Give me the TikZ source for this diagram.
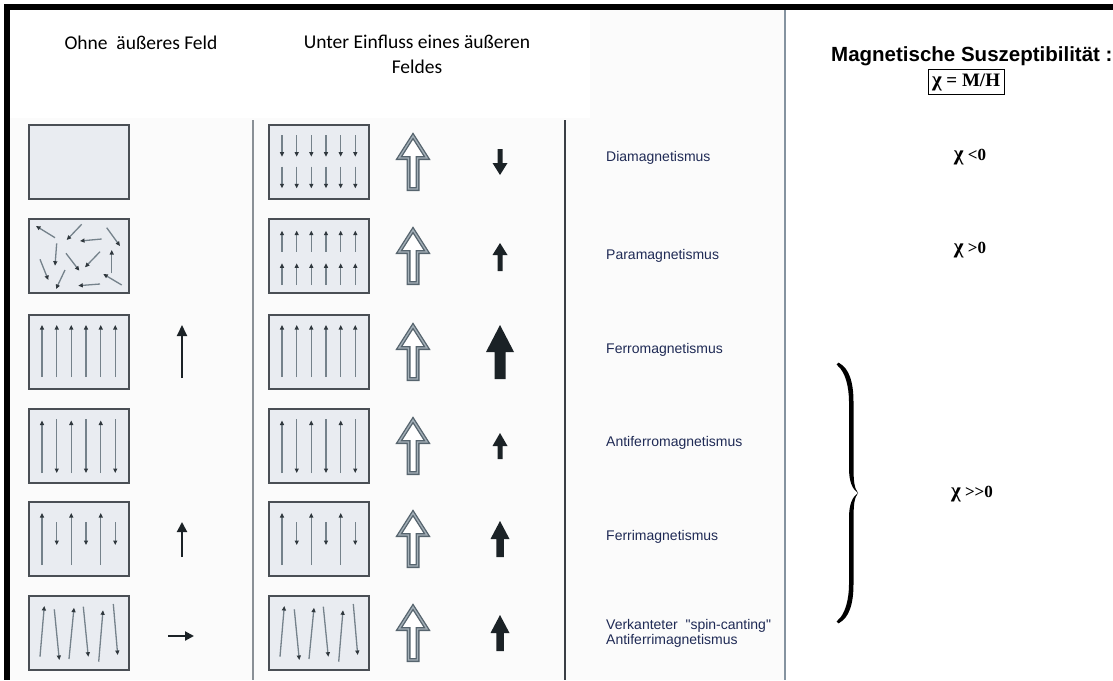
\documentclass[tikz,border=0pt]{standalone}
\usepackage{fontspec}
\setmainfont{Liberation Serif}
\newfontfamily\hdrfont{Carlito}
\newfontfamily\lblfont{Liberation Sans}
\usetikzlibrary{arrows.meta}
\definecolor{offwhite}{HTML}{FBFBFB}
\definecolor{boxfill}{HTML}{E9ECF1}
\definecolor{boxline}{HTML}{4A4F55}
\definecolor{spinline}{HTML}{75828B}
\definecolor{spinhead}{HTML}{2F373D}
\definecolor{hollowdark}{HTML}{56646E}
\definecolor{hollowlight}{HTML}{A3AFB7}
\definecolor{lblblue}{HTML}{1F2A55}
\definecolor{sepgray}{HTML}{8A9096}
\definecolor{sepdark}{HTML}{3A3F45}
\definecolor{sepblue}{HTML}{8593A0}
\definecolor{solidcol}{HTML}{1B2226}
\newcommand\bigchi{{\fontsize{21}{20}\selectfont χ}}
\tikzset{
  mbox/.style={draw=boxline, line width=1.5pt, fill=boxfill, minimum width=100pt, minimum height=74pt, inner sep=0pt},
  spin/.style={line width=1.3pt, draw=spinline, -{Triangle[length=4.5pt,width=4pt,color=spinhead]}},
  lbl/.style={anchor=west, font=\lblfont\fontsize{14}{16}\selectfont, text=lblblue, inner sep=0pt},
  hdr/.style={font=\hdrfont\fontsize{19.5}{25}\selectfont, align=center, inner sep=0pt},
  chi/.style={font=\bfseries\fontsize{17}{20}\selectfont, inner sep=0pt},
  thinarrow/.style={line width=2pt, draw=solidcol, -{Triangle[length=11pt,width=10pt,color=solidcol]}},
}
\newcommand\solidup[6]{%
  \fill[solidcol] (#1,#2) -- ({#1+#4/2},{#2+#5}) -- ({#1+#6/2},{#2+#5}) -- ({#1+#6/2},{#2+#3}) -- ({#1-#6/2},{#2+#3}) -- ({#1-#6/2},{#2+#5}) -- ({#1-#4/2},{#2+#5}) -- cycle;}
\newcommand\hollowup[2]{%
  \filldraw[draw=hollowdark, fill=white, line width=4pt] (#1,#2) -- ({#1+14},{#2+22}) -- ({#1+4.5},{#2+22}) -- ({#1+4.5},{#2+53}) -- ({#1-4.5},{#2+53}) -- ({#1-4.5},{#2+22}) -- ({#1-14},{#2+22}) -- cycle;
  \draw[draw=hollowlight, line width=1.3pt] (#1,#2) -- ({#1+14},{#2+22}) -- ({#1+4.5},{#2+22}) -- ({#1+4.5},{#2+53}) -- ({#1-4.5},{#2+53}) -- ({#1-4.5},{#2+22}) -- ({#1-14},{#2+22}) -- cycle;}
% spin patterns in box-local coordinates (origin = top-left corner of box)
\newcommand\spinsFerro{\foreach \dx in {13,27.7,42.3,57,71.7,86.3} {\draw[spin] (\dx,62) -- (\dx,10);}}
\newcommand\spinsAntiferro{%
  \foreach \dx in {13,42.3,71.7} {\draw[spin] (\dx,64) -- (\dx,11.5);}
  \foreach \dx in {27.7,57,86.3} {\draw[spin] (\dx,10) -- (\dx,64);}}
\newcommand\spinsFerri{%
  \foreach \dx in {13,42.3,71.7} {\draw[spin] (\dx,63) -- (\dx,11);}
  \foreach \dx in {27.7,57,86.3} {\draw[spin] (\dx,20) -- (\dx,43);}}
\newcommand\spinsCanted{%
  \draw[spin] (11,60.7) -- (15.3,10);
  \draw[spin] (25.3,13.3) -- (30.3,64);
  \draw[spin] (40,63) -- (45,11.7);
  \draw[spin] (54.3,10.7) -- (59.3,60.7);
  \draw[spin] (69.7,65.7) -- (74,14.3);
  \draw[spin] (84.3,8) -- (88.7,59);}
\begin{document}
\begin{tikzpicture}[x=1pt,y=-1pt]
\useasboundingbox (0,0) rectangle (1113,680);
% backgrounds
\fill[white] (0,0) rectangle (1113,680);
\fill[offwhite] (10,10) rectangle (785,680);
\fill[white] (10,10) rectangle (590,118);
% outer frame
\fill[black] (4,4) rectangle (1113,10);
\fill[black] (4,4) rectangle (10,680);
% separators
\draw[sepgray, line width=1.5pt] (253,120) -- (253,680);
\draw[sepdark, line width=2pt] (565,120) -- (565,680);
\draw[sepblue, line width=2pt] (785,10) -- (785,680);
% headers
\node[hdr] (h1) at (141,43) {Ohne\hspace{0.45em}äußeres Feld};
\node[hdr, anchor=north] (h2) at (417,35) {Unter Einfluss eines äußeren\\Feldes};
% boxes
\foreach \r/\T in {1/125,2/219,3/315,4/409,5/502,6/596} {
  \node[mbox] (L\r) at (79,{\T+37}) {};
  \node[mbox] (M\r) at (319,{\T+37}) {};
  \hollowup{413}{\T+11}
}
% row 1 middle: dia
\begin{scope}[shift={(269,125)}]
  \foreach \dx in {13,27.7,42.3,57,71.7,86.3} {\draw[spin] (\dx,10) -- (\dx,31.7); \draw[spin] (\dx,41.7) -- (\dx,63.3);}
\end{scope}
% row 2 left: para random
\draw[spin] (55,237.7) -- (36,226);
\draw[spin] (81.7,224.3) -- (66.7,240);
\draw[spin] (101.7,239) -- (80,241);
\draw[spin] (106.7,227.7) -- (120,246);
\draw[spin] (56.7,243.3) -- (55,265.7);
\draw[spin] (66,253.3) -- (79.3,270.7);
\draw[spin] (100,251.7) -- (85,267.3);
\draw[spin] (111.7,273.3) -- (111.7,250);
\draw[spin] (40,259.3) -- (48.3,280);
\draw[spin] (65,270) -- (56,289);
\draw[spin] (100,284) -- (78.3,285.7);
\draw[spin] (121.7,285) -- (103.3,274);
% row 2 middle
\begin{scope}[shift={(269,219)}]
  \foreach \dx in {13,27.7,42.3,57,71.7,86.3} {\draw[spin] (\dx,32.7) -- (\dx,11.7); \draw[spin] (\dx,66) -- (\dx,44.3);}
\end{scope}
% rows 3-6
\begin{scope}[shift={(29,315)}]\spinsFerro\end{scope}
\begin{scope}[shift={(269,315)}]\spinsFerro\end{scope}
\begin{scope}[shift={(29,409)}]\spinsAntiferro\end{scope}
\begin{scope}[shift={(269,409)}]\spinsAntiferro\end{scope}
\begin{scope}[shift={(29,502)}]\spinsFerri\end{scope}
\begin{scope}[shift={(269,502)}]\spinsFerri\end{scope}
\begin{scope}[shift={(29,596)}]\spinsCanted\end{scope}
\begin{scope}[shift={(269,596)}]\spinsCanted\end{scope}
% net moments, no field
\coordinate (n3a) at (182,378); \coordinate (n3b) at (182,325);
\coordinate (n5a) at (182,557); \coordinate (n5b) at (182,522);
\coordinate (n6a) at (168,636); \coordinate (n6b) at (194,636);
\draw[thinarrow] (n3a) -- (n3b);
\draw[thinarrow, -{Triangle[length=10pt,width=10pt,color=solidcol]}] (n5a) -- (n5b);
\draw[thinarrow, -{Triangle[length=9pt,width=9pt,color=solidcol]}] (n6a) -- (n6b);
% net moments in field
\solidup{500}{175}{-26}{15}{-12}{5}
\solidup{500}{243}{28}{15}{12}{5}
\solidup{500}{325}{54}{28}{27}{11}
\solidup{500}{433}{26}{15}{13}{5}
\solidup{500}{521}{36}{19}{18}{7.5}
\solidup{500}{615}{36}{19}{18}{7.5}
% labels
\node[lbl] (t1) at (606,158) {Diamagnetismus};
\node[lbl] (t2) at (606,256) {Paramagnetismus};
\node[lbl] (t3) at (606,350) {Ferromagnetismus};
\node[lbl] (t4) at (606,443) {Antiferromagnetismus};
\node[lbl] (t5) at (606,537) {Ferrimagnetismus};
\node[lbl, align=left, anchor=north west, font=\lblfont\fontsize{14}{15}\selectfont] (t6) at (606,619) {Verkanteter\ \ "spin-canting"\\Antiferrimagnetismus};
% right column
\node[anchor=west, inner sep=0pt, font=\lblfont\bfseries\fontsize{20.5}{24}\selectfont] (title) at (831,56) {Magnetische Suszeptibilität :};
\node[draw=black, line width=0.8pt, inner sep=4pt, font=\bfseries\fontsize{19}{22}\selectfont] (formula) at (966,82) {\bigchi{} = M/H};
\node[chi] (c1) at (970,157) {\bigchi{} <0};
\node[chi] (c2) at (970,250) {\bigchi{} >0};
\node[chi] (c3) at (972,494) {\bigchi{} >{}>0};
% brace
\fill[black] (839,363) .. controls (849,368) and (853.5,382) .. (853.5,402) -- (853.5,465) .. controls (853.5,480) and (854,488) .. (858,493) .. controls (852,489) and (849,481) .. (849,468) -- (849,402) .. controls (849,386) and (845,372) .. (838,366) -- cycle;
\fill[black] (839,623) .. controls (849,618) and (853.5,604) .. (853.5,584) -- (853.5,521) .. controls (853.5,506) and (854,498) .. (858,493) .. controls (852,497) and (849,505) .. (849,518) -- (849,584) .. controls (849,600) and (845,614) .. (838,620) -- cycle;
\fill[black] (838.5,364.5) circle (1.8);
\fill[black] (838.5,621.5) circle (1.8);
\end{tikzpicture}
\end{document}
